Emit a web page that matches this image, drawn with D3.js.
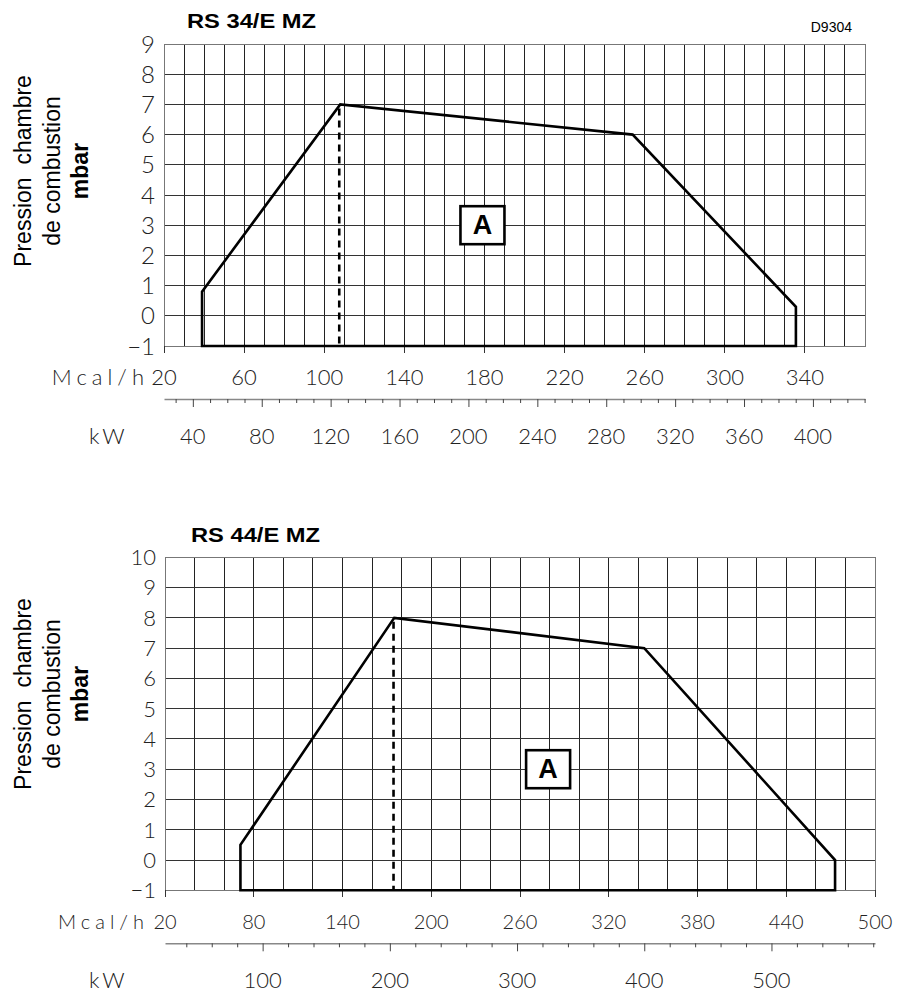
<!DOCTYPE html>
<html>
<head>
<meta charset="utf-8">
<script src="https://cdn.jsdelivr.net/npm/d3@7"></script>
<style>
    body { margin: 0; background: #fff; }
    svg { display: block; }
    .thin { font-family: Lato, "Open Sans", sans-serif; font-weight: 300; fill: #222; }
    .arial { font-family: "Liberation Sans", Arial, sans-serif; fill: #000; }
</style>
</head>
<body>
<div id="chart"></div>
<script>
// RS 34/E MZ
const topTitle = "RS 34/E MZ"
const topMcalDomain = [20, 370]
const topMcalTicks = [20, 60, 100, 140, 180, 220, 260, 300, 340]
const topKwTicks = [40, 80, 120, 160, 200, 240, 280, 320, 360, 400]
const topYTicks = [-1, 0, 1, 2, 3, 4, 5, 6, 7, 8, 9]
const topEnvelope = [[39, -1], [39, 0.8], [108, 7], [254, 6], [335.5, 0.3], [335.5, -1]]
const topDashed = 107.5
const topLabelA = [179, 3]

// RS 44/E MZ
const botTitle = "RS 44/E MZ"
const botMcalDomain = [20, 500]
const botMcalTicks = [20, 80, 140, 200, 260, 320, 380, 440, 500]
const botKwTicks = [100, 200, 300, 400, 500]
const botYTicks = [-1, 0, 1, 2, 3, 4, 5, 6, 7, 8, 9, 10]
const botEnvelope = [[71, -1], [71, 0.5], [175, 8], [344, 7], [473, 0], [473, -1]]
const botDashed = 174.5
const botLabelA = [279, 3]

const kwToMcal = 0.86

const wrapper = d3.select("#chart")
    .append("svg")
        .attr("width", 898)
        .attr("height", 997)

wrapper.append("text")
    .attr("class", "arial")
    .attr("x", 852)
    .attr("y", 32)
    .attr("text-anchor", "end")
    .style("font-size", "14px")
    .text("D9304")

function drawChart(cfg){
    const d = cfg.dims
    const xScale = d3.scaleLinear().domain(cfg.mcalDomain).range([d.left, d.right])
    const yScale = d3.scaleLinear().domain([cfg.yTicks[0], cfg.yTicks[cfg.yTicks.length - 1]]).range([d.bottom, d.top])
    const kwScale = d3.scaleLinear()
        .domain(cfg.mcalDomain.map(v => v / kwToMcal))
        .range([d.left, d.right])

    const g = wrapper.append("g")

    // title
    g.append("text")
        .attr("class", "arial")
        .attr("x", d.titleX)
        .attr("y", d.titleY)
        .attr("textLength", 129)
        .attr("lengthAdjust", "spacingAndGlyphs")
        .style("font-size", "20px")
        .style("font-weight", "bold")
        .text(cfg.title)

    // grid
    const grid = g.append("g").attr("shape-rendering", "crispEdges")
    grid.selectAll(".vg")
        .data(d3.range(cfg.mcalDomain[0], cfg.mcalDomain[1] + 0.1, cfg.gridStep))
        .join("line")
            .attr("x1", v => xScale(v)).attr("x2", v => xScale(v))
            .attr("y1", d.top).attr("y2", d.bottom)
            .attr("stroke", "#222")
    grid.selectAll(".hg")
        .data(cfg.yTicks)
        .join("line")
            .attr("x1", d.left).attr("x2", d.right)
            .attr("y1", v => yScale(v)).attr("y2", v => yScale(v))
            .attr("stroke", "#333")
    grid.append("rect")
        .attr("x", d.left).attr("y", d.top)
        .attr("width", d.right - d.left).attr("height", d.bottom - d.top)
        .attr("fill", "none")
        .attr("stroke", "#777")

    // y labels
    g.selectAll(".yl")
        .data(cfg.yTicks)
        .join("text")
            .attr("class", "thin")
            .attr("x", d.left - 9)
            .attr("y", v => yScale(v))
            .attr("dy", "0.36em")
            .attr("text-anchor", "end")
            .style("font-size", cfg.yFont + "px")
            .text(v => v < 0 ? "\u2212" + Math.abs(v) : v)

    // Mcal/h axis
    g.append("g")
        .attr("shape-rendering", "crispEdges")
        .selectAll("line")
        .data(cfg.mcalTicks)
        .join("line")
            .attr("x1", v => xScale(v)).attr("x2", v => xScale(v))
            .attr("y1", d.bottom).attr("y2", d.bottom + 7)
            .attr("stroke", "#333")
    g.selectAll(".ml")
        .data(cfg.mcalTicks)
        .join("text")
            .attr("class", "thin")
            .attr("x", v => xScale(v))
            .attr("y", d.bottom + 39)
            .attr("text-anchor", "middle")
            .style("font-size", cfg.mcalFont + "px")
            .text(v => v)
    g.append("text")
        .attr("class", "thin")
        .attr("x", 149)
        .attr("y", d.bottom + 39)
        .attr("text-anchor", "end")
        .style("font-size", cfg.mcalFont + "px")
        .style("letter-spacing", "5px")
        .text("Mcal/h")

    // kW axis
    const kwY = d.bottom + 53
    const kwAxis = d3.axisBottom(kwScale)
        .tickValues(d3.range(cfg.kwMinor[0], cfg.kwMinor[1] + 0.1, cfg.kwMinor[2]))
        .tickFormat("")
        .tickSizeInner(4)
        .tickSizeOuter(0)
    const kwG = g.append("g")
        .attr("transform", `translate(0, ${kwY})`)
        .call(kwAxis)
    kwG.select(".domain").attr("stroke", "#888").attr("stroke-width", 1.5)
    kwG.selectAll(".tick line").attr("stroke", "#444")
    kwG.selectAll(".tick line")
        .filter(v => cfg.kwTicks.includes(v))
        .attr("y2", 8)
    g.selectAll(".kl")
        .data(cfg.kwTicks)
        .join("text")
            .attr("class", "thin")
            .attr("x", v => kwScale(v))
            .attr("y", d.bottom + 98)
            .attr("text-anchor", "middle")
            .style("font-size", "22px")
            .text(v => v)
    g.append("text")
        .attr("class", "thin")
        .attr("x", 89)
        .attr("y", d.bottom + 98)
        .style("font-size", "22px")
        .style("letter-spacing", "3px")
        .text("kW")

    // envelope
    const lineGenerator = d3.line()
        .x(p => xScale(p[0]))
        .y(p => yScale(p[1]))
    g.append("path")
        .attr("d", lineGenerator(cfg.envelope) + "Z")
        .attr("fill", "none")
        .attr("stroke", "#000")
        .attr("stroke-width", 2.6)
        .attr("stroke-linejoin", "miter")
    g.append("line")
        .attr("x1", xScale(cfg.dashed)).attr("x2", xScale(cfg.dashed))
        .attr("y1", yScale(cfg.envelope[2][1]) + 4)
        .attr("y2", yScale(cfg.yTicks[0]))
        .attr("stroke", "#000")
        .attr("stroke-width", 2.6)
        .attr("stroke-dasharray", "7,5")

    // A label
    const ax = xScale(cfg.labelA[0]), ay = yScale(cfg.labelA[1])
    g.append("rect")
        .attr("x", ax - 22).attr("y", ay - 19)
        .attr("width", 44).attr("height", 38)
        .attr("fill", "#fff")
        .attr("stroke", "#000")
        .attr("stroke-width", 2.6)
    g.append("text")
        .attr("class", "arial")
        .attr("x", ax)
        .attr("y", ay + 9)
        .attr("text-anchor", "middle")
        .style("font-size", "27px")
        .style("font-weight", "bold")
        .text("A")

    // y title
    const yt = g.append("g")
        .attr("transform", `translate(0, ${d.yTitleY}) rotate(-90)`)
    const lines = [["Pression  chambre", 30.5, "normal"], ["de combustion", 60, "normal"], ["mbar", 88, "bold"]]
    yt.selectAll("text")
        .data(lines)
        .join("text")
            .attr("class", "arial")
            .attr("x", 0)
            .attr("y", l => l[1])
            .attr("text-anchor", "middle")
            .style("font-size", "23px")
            .style("font-weight", l => l[2])
            .style("white-space", "pre")
            .text(l => l[0])
}

drawChart({
    title: topTitle,
    mcalDomain: topMcalDomain,
    mcalTicks: topMcalTicks,
    kwTicks: topKwTicks,
    kwMinor: [30, 430, 10],
    yTicks: topYTicks,
    envelope: topEnvelope,
    dashed: topDashed,
    labelA: topLabelA,
    gridStep: 10,
    yFont: 24,
    mcalFont: 22,
    dims: { left: 164, right: 865, top: 44, bottom: 346, titleX: 187, titleY: 27.5, yTitleY: 171 }
})

drawChart({
    title: botTitle,
    mcalDomain: botMcalDomain,
    mcalTicks: botMcalTicks,
    kwTicks: botKwTicks,
    kwMinor: [40, 580, 20],
    yTicks: botYTicks,
    envelope: botEnvelope,
    dashed: botDashed,
    labelA: botLabelA,
    gridStep: 20,
    yFont: 22,
    mcalFont: 20,
    dims: { left: 165, right: 875, top: 557.3, bottom: 890.3, titleX: 191, titleY: 541.7, yTitleY: 694 }
})
</script>
</body>
</html>
